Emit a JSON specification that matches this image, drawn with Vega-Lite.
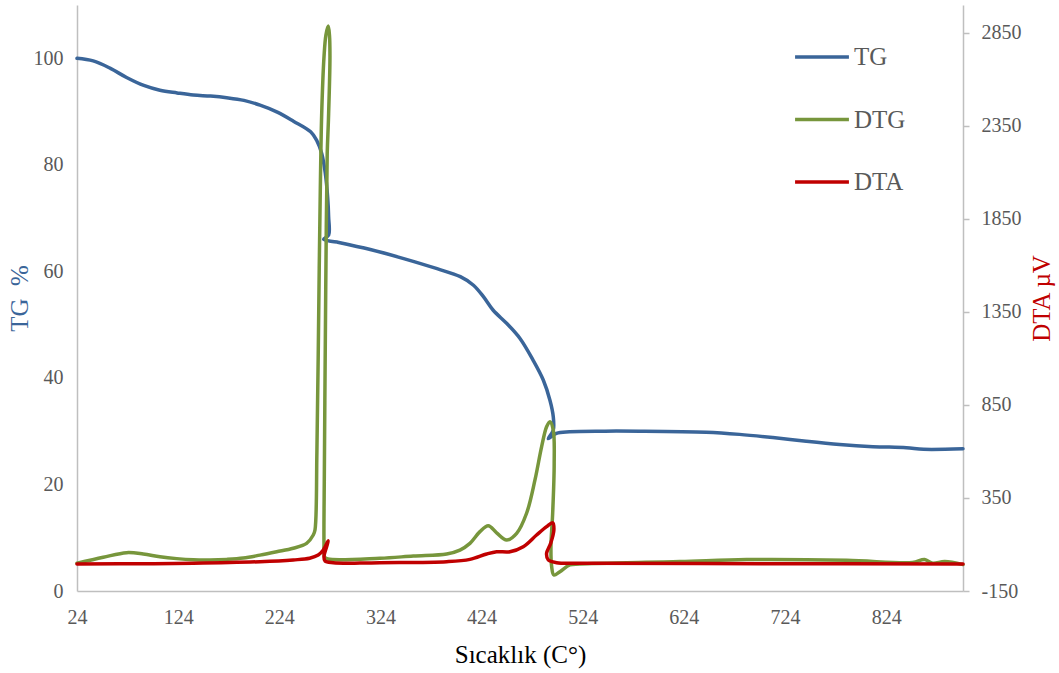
{
  "$schema": "https://vega.github.io/schema/vega-lite/v6.json",
  "autosize": {"type": "none"},
  "padding": {"left": 77, "top": 5, "right": 96, "bottom": 82},
  "width": 886,
  "height": 586,
  "background": "white",
  "config": {"view": {"stroke": null}, "font": "Liberation Serif"},
  "datasets": {
    "tg": [
      {"i": 0, "T": 24, "v": 100, "s": "TG"},
      {"i": 1, "T": 40, "v": 99.5, "s": "TG"},
      {"i": 2, "T": 57, "v": 98.1, "s": "TG"},
      {"i": 3, "T": 73, "v": 96.4, "s": "TG"},
      {"i": 4, "T": 90, "v": 94.9, "s": "TG"},
      {"i": 5, "T": 106, "v": 94.0, "s": "TG"},
      {"i": 6, "T": 123, "v": 93.5, "s": "TG"},
      {"i": 7, "T": 139, "v": 93.1, "s": "TG"},
      {"i": 8, "T": 156, "v": 92.9, "s": "TG"},
      {"i": 9, "T": 172, "v": 92.6, "s": "TG"},
      {"i": 10, "T": 189, "v": 92.1, "s": "TG"},
      {"i": 11, "T": 205, "v": 91.2, "s": "TG"},
      {"i": 12, "T": 222, "v": 89.9, "s": "TG"},
      {"i": 13, "T": 238, "v": 88.2, "s": "TG"},
      {"i": 14, "T": 255, "v": 86.2, "s": "TG"},
      {"i": 15, "T": 261, "v": 84.6, "s": "TG"},
      {"i": 16, "T": 266, "v": 82.1, "s": "TG"},
      {"i": 17, "T": 269.5, "v": 78.4, "s": "TG"},
      {"i": 18, "T": 271.8, "v": 74.0, "s": "TG"},
      {"i": 19, "T": 272.8, "v": 70.2, "s": "TG"},
      {"i": 20, "T": 272.8, "v": 66.8, "s": "TG"},
      {"i": 21, "T": 267.9, "v": 66.0, "s": "TG"},
      {"i": 22, "T": 281, "v": 65.5, "s": "TG"},
      {"i": 23, "T": 314, "v": 64.1, "s": "TG"},
      {"i": 24, "T": 347, "v": 62.4, "s": "TG"},
      {"i": 25, "T": 380, "v": 60.5, "s": "TG"},
      {"i": 26, "T": 403, "v": 59.0, "s": "TG"},
      {"i": 27, "T": 416, "v": 57.4, "s": "TG"},
      {"i": 28, "T": 426, "v": 55.2, "s": "TG"},
      {"i": 29, "T": 435.5, "v": 52.7, "s": "TG"},
      {"i": 30, "T": 449, "v": 50.2, "s": "TG"},
      {"i": 31, "T": 462, "v": 47.4, "s": "TG"},
      {"i": 32, "T": 475, "v": 43.3, "s": "TG"},
      {"i": 33, "T": 485, "v": 39.6, "s": "TG"},
      {"i": 34, "T": 491.6, "v": 35.8, "s": "TG"},
      {"i": 35, "T": 494.9, "v": 32.7, "s": "TG"},
      {"i": 36, "T": 494.9, "v": 30.2, "s": "TG"},
      {"i": 37, "T": 490, "v": 28.6, "s": "TG"},
      {"i": 38, "T": 498, "v": 29.6, "s": "TG"},
      {"i": 39, "T": 511, "v": 29.9, "s": "TG"},
      {"i": 40, "T": 546, "v": 30.0, "s": "TG"},
      {"i": 41, "T": 581, "v": 30.0, "s": "TG"},
      {"i": 42, "T": 646, "v": 29.8, "s": "TG"},
      {"i": 43, "T": 679, "v": 29.4, "s": "TG"},
      {"i": 44, "T": 712, "v": 28.8, "s": "TG"},
      {"i": 45, "T": 745, "v": 28.1, "s": "TG"},
      {"i": 46, "T": 778, "v": 27.5, "s": "TG"},
      {"i": 47, "T": 811, "v": 27.1, "s": "TG"},
      {"i": 48, "T": 844, "v": 26.9, "s": "TG"},
      {"i": 49, "T": 861, "v": 26.6, "s": "TG"},
      {"i": 50, "T": 900, "v": 26.7, "s": "TG"}
    ],
    "dd": [
      {"i": 0, "T": 24, "v": -1, "s": "DTG"},
      {"i": 1, "T": 50, "v": 31, "s": "DTG"},
      {"i": 2, "T": 73, "v": 56, "s": "DTG"},
      {"i": 3, "T": 89.5, "v": 49, "s": "DTG"},
      {"i": 4, "T": 106, "v": 34, "s": "DTG"},
      {"i": 5, "T": 122.6, "v": 24, "s": "DTG"},
      {"i": 6, "T": 139, "v": 18, "s": "DTG"},
      {"i": 7, "T": 155.5, "v": 17, "s": "DTG"},
      {"i": 8, "T": 172, "v": 20, "s": "DTG"},
      {"i": 9, "T": 188.4, "v": 27, "s": "DTG"},
      {"i": 10, "T": 204.9, "v": 43, "s": "DTG"},
      {"i": 11, "T": 221.4, "v": 61, "s": "DTG"},
      {"i": 12, "T": 237.8, "v": 80, "s": "DTG"},
      {"i": 13, "T": 251, "v": 106, "s": "DTG"},
      {"i": 14, "T": 257.6, "v": 151, "s": "DTG"},
      {"i": 15, "T": 259.3, "v": 178, "s": "DTG"},
      {"i": 16, "T": 261.2, "v": 600, "s": "DTG"},
      {"i": 17, "T": 263.5, "v": 1586, "s": "DTG"},
      {"i": 18, "T": 264.7, "v": 2059, "s": "DTG"},
      {"i": 19, "T": 265.9, "v": 2409, "s": "DTG"},
      {"i": 20, "T": 268.2, "v": 2720, "s": "DTG"},
      {"i": 21, "T": 270.1, "v": 2839, "s": "DTG"},
      {"i": 22, "T": 272.4, "v": 2887, "s": "DTG"},
      {"i": 23, "T": 273.6, "v": 2839, "s": "DTG"},
      {"i": 24, "T": 274.1, "v": 2720, "s": "DTG"},
      {"i": 25, "T": 272.6, "v": 2382, "s": "DTG"},
      {"i": 26, "T": 271.4, "v": 2204, "s": "DTG"},
      {"i": 27, "T": 270.1, "v": 1575, "s": "DTG"},
      {"i": 28, "T": 269.2, "v": 973, "s": "DTG"},
      {"i": 29, "T": 268.5, "v": 447, "s": "DTG"},
      {"i": 30, "T": 268.2, "v": 108, "s": "DTG"},
      {"i": 31, "T": 268.7, "v": 33, "s": "DTG"},
      {"i": 32, "T": 272.1, "v": 22, "s": "DTG"},
      {"i": 33, "T": 323.5, "v": 26, "s": "DTG"},
      {"i": 34, "T": 356.5, "v": 38, "s": "DTG"},
      {"i": 35, "T": 389.5, "v": 49, "s": "DTG"},
      {"i": 36, "T": 402.6, "v": 70, "s": "DTG"},
      {"i": 37, "T": 412.5, "v": 106, "s": "DTG"},
      {"i": 38, "T": 422.4, "v": 169, "s": "DTG"},
      {"i": 39, "T": 430.6, "v": 201, "s": "DTG"},
      {"i": 40, "T": 438.9, "v": 163, "s": "DTG"},
      {"i": 41, "T": 448.8, "v": 124, "s": "DTG"},
      {"i": 42, "T": 458.7, "v": 160, "s": "DTG"},
      {"i": 43, "T": 468.5, "v": 268, "s": "DTG"},
      {"i": 44, "T": 476.8, "v": 447, "s": "DTG"},
      {"i": 45, "T": 483.4, "v": 626, "s": "DTG"},
      {"i": 46, "T": 488.3, "v": 733, "s": "DTG"},
      {"i": 47, "T": 491.6, "v": 760, "s": "DTG"},
      {"i": 48, "T": 494.9, "v": 715, "s": "DTG"},
      {"i": 49, "T": 495.8, "v": 536, "s": "DTG"},
      {"i": 50, "T": 494.3, "v": 268, "s": "DTG"},
      {"i": 51, "T": 492.6, "v": 88, "s": "DTG"},
      {"i": 52, "T": 493.3, "v": -19, "s": "DTG"},
      {"i": 53, "T": 495.5, "v": -64, "s": "DTG"},
      {"i": 54, "T": 501.5, "v": -46, "s": "DTG"},
      {"i": 55, "T": 511.3, "v": -10, "s": "DTG"},
      {"i": 56, "T": 521.2, "v": -5, "s": "DTG"},
      {"i": 57, "T": 620, "v": 8, "s": "DTG"},
      {"i": 58, "T": 686, "v": 19, "s": "DTG"},
      {"i": 59, "T": 785, "v": 15, "s": "DTG"},
      {"i": 60, "T": 850, "v": 3, "s": "DTG"},
      {"i": 61, "T": 862, "v": 19, "s": "DTG"},
      {"i": 62, "T": 870, "v": -1, "s": "DTG"},
      {"i": 63, "T": 882, "v": 8, "s": "DTG"},
      {"i": 64, "T": 900, "v": -8, "s": "DTG"},
      {"i": 0, "T": 24, "v": -5, "s": "DTA"},
      {"i": 1, "T": 100, "v": -3, "s": "DTA"},
      {"i": 2, "T": 139, "v": -1, "s": "DTA"},
      {"i": 3, "T": 204.9, "v": 7.5, "s": "DTA"},
      {"i": 4, "T": 237.8, "v": 17, "s": "DTA"},
      {"i": 5, "T": 254, "v": 26, "s": "DTA"},
      {"i": 6, "T": 262.5, "v": 43, "s": "DTA"},
      {"i": 7, "T": 267.5, "v": 70, "s": "DTA"},
      {"i": 8, "T": 272.4, "v": 120, "s": "DTA"},
      {"i": 9, "T": 270.8, "v": 88, "s": "DTA"},
      {"i": 10, "T": 268.2, "v": 34, "s": "DTA"},
      {"i": 11, "T": 269.2, "v": 11, "s": "DTA"},
      {"i": 12, "T": 277.4, "v": 2, "s": "DTA"},
      {"i": 13, "T": 303.8, "v": 0, "s": "DTA"},
      {"i": 14, "T": 323.5, "v": 2, "s": "DTA"},
      {"i": 15, "T": 389.5, "v": 7.5, "s": "DTA"},
      {"i": 16, "T": 412.5, "v": 20, "s": "DTA"},
      {"i": 17, "T": 429, "v": 49, "s": "DTA"},
      {"i": 18, "T": 438.9, "v": 61, "s": "DTA"},
      {"i": 19, "T": 452, "v": 61, "s": "DTA"},
      {"i": 20, "T": 465.2, "v": 88, "s": "DTA"},
      {"i": 21, "T": 478.4, "v": 151, "s": "DTA"},
      {"i": 22, "T": 488.3, "v": 196, "s": "DTA"},
      {"i": 23, "T": 494.3, "v": 217, "s": "DTA"},
      {"i": 24, "T": 495.5, "v": 178, "s": "DTA"},
      {"i": 25, "T": 492.3, "v": 106, "s": "DTA"},
      {"i": 26, "T": 488.3, "v": 53, "s": "DTA"},
      {"i": 27, "T": 489.9, "v": 17, "s": "DTA"},
      {"i": 28, "T": 498.2, "v": 2, "s": "DTA"},
      {"i": 29, "T": 521.2, "v": -1, "s": "DTA"},
      {"i": 30, "T": 700, "v": -3, "s": "DTA"},
      {"i": 31, "T": 900, "v": -5, "s": "DTA"}
    ]
  },
  "encoding": {
    "x": {
      "field": "T", "type": "quantitative",
      "scale": {"domain": [24, 900], "nice": false, "zero": false},
      "axis": {
        "values": [24, 124, 224, 324, 424, 524, 624, 724, 824],
        "grid": false, "ticks": false, "tickSize": 0, "labelFlush": false,
        "domainColor": "#BFBFBF", "domainWidth": 1.5,
        "labelFont": "Liberation Serif", "labelFontSize": 20, "labelColor": "#595959", "labelPadding": 16,
        "title": "Sıcaklık (C°)", "titleFont": "Liberation Serif", "titleFontSize": 25, "titleFontWeight": "normal",
        "titleColor": "#000000", "titleY": 63, "titleBaseline": "middle"
      }
    },
    "color": {
      "field": "s", "type": "nominal",
      "scale": {"domain": ["TG", "DTG", "DTA"], "range": ["#3A6599", "#77963C", "#C00000"]},
      "legend": {
        "orient": "none", "legendX": 716, "legendY": 23, "title": null,
        "symbolType": "stroke", "symbolSize": 2900, "symbolStrokeWidth": 3.5,
        "labelFont": "Liberation Serif", "labelFontSize": 25, "labelColor": "#595959",
        "labelOffset": 3, "rowPadding": 20.5
      }
    },
    "order": {"field": "i", "type": "quantitative"}
  },
  "layer": [
    {
      "data": {"name": "tg"},
      "mark": {"type": "line", "strokeWidth": 3.5, "interpolate": "catmull-rom", "strokeCap": "round"},
      "encoding": {
        "y": {
          "field": "v", "type": "quantitative",
          "scale": {"domain": [0, 110], "nice": false, "zero": false},
          "axis": {
            "orient": "left", "values": [0, 20, 40, 60, 80, 100],
            "grid": false, "ticks": false, "tickSize": 0, "labelFlush": false,
            "domainColor": "#BFBFBF", "domainWidth": 1.5,
            "labelFont": "Liberation Serif", "labelFontSize": 20, "labelColor": "#595959", "labelPadding": 14,
            "title": "TG\u00a0\u00a0%", "titleFont": "Liberation Serif", "titleFontSize": 25, "titleFontWeight": "normal",
            "titleColor": "#3A6599", "titleX": -58, "titleAngle": -90, "titleBaseline": "middle"
          }
        }
      }
    },
    {
      "data": {"name": "dd"},
      "mark": {"type": "line", "strokeWidth": 3.5, "interpolate": "catmull-rom", "strokeCap": "round"},
      "encoding": {
        "detail": {"field": "s"},
        "y": {
          "field": "v", "type": "quantitative",
          "scale": {"domain": [-150, 3000], "nice": false, "zero": false},
          "axis": {
            "orient": "right", "values": [-150, 350, 850, 1350, 1850, 2350, 2850],
            "labelExpr": "'' + datum.value",
            "grid": false, "ticks": true, "tickSize": 6, "tickColor": "#BFBFBF", "tickWidth": 1.5, "labelFlush": false,
            "domainColor": "#BFBFBF", "domainWidth": 1.5,
            "labelFont": "Liberation Serif", "labelFontSize": 20, "labelColor": "#595959", "labelPadding": 12,
            "title": "DTA µV", "titleFont": "Liberation Serif", "titleFontSize": 25, "titleFontWeight": "normal",
            "titleColor": "#C00000", "titleX": 78, "titleAngle": -90, "titleBaseline": "middle"
          }
        }
      }
    }
  ],
  "resolve": {"scale": {"y": "independent"}}
}
